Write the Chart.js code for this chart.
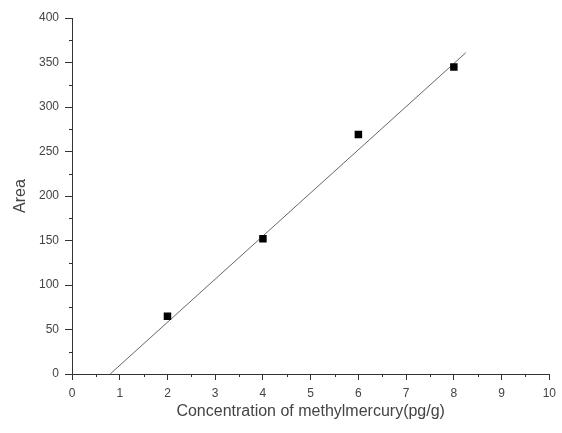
<!DOCTYPE html>
<html>
<head>
<meta charset="utf-8">
<script src="https://cdn.jsdelivr.net/npm/chart.js@4"></script>
<style>
  html, body { margin: 0; padding: 0; background: #fff; }
  #wrap { width: 562px; height: 433px; }
</style>
</head>
<body>
<div id="wrap"><canvas id="calibChart" width="562" height="433"></canvas></div>
<script>
// measured points
const conc = [2, 4, 6, 8];
const area = [65, 152, 269, 345];
// fitted line, ends as drawn
const fit_x = [0.8, 8.25];
const fit_y = [0, 361];

const x_ticks = [0, 1, 2, 3, 4, 5, 6, 7, 8, 9, 10];
const y_ticks = [0, 50, 100, 150, 200, 250, 300, 350, 400];

const points = conc.map(function (c, i) { return { x: c, y: area[i] }; });
const fitLine = fit_x.map(function (c, i) { return { x: c, y: fit_y[i] }; });

// short minor ticks between the labelled ones
const minorTicks = {
  id: "minorTicks",
  afterDraw: function (chart) {
    const ctx = chart.ctx;
    const xs = chart.scales.x, ys = chart.scales.y;
    ctx.save();
    ctx.strokeStyle = "#333";
    ctx.lineWidth = 1;
    ctx.beginPath();
    for (let i = 0; i < x_ticks.length - 1; i++) {
      const px = Math.round(xs.getPixelForValue(x_ticks[i] + 0.5)) + 0.5;
      ctx.moveTo(px, xs.top);
      ctx.lineTo(px, xs.top + 3);
    }
    for (let i = 0; i < y_ticks.length - 1; i++) {
      const py = Math.round(ys.getPixelForValue(y_ticks[i] + 25)) + 0.5;
      ctx.moveTo(ys.right, py);
      ctx.lineTo(ys.right - 3, py);
    }
    ctx.stroke();
    ctx.restore();
  }
};

const calib_chart = new Chart("calibChart", {
  type: "scatter",
  data: {
    datasets: [
      {
        label: "Area",
        data: points,
        pointStyle: "rect",
        pointRadius: 5.3,
        backgroundColor: "#000",
        borderColor: "#000",
        borderWidth: 0,
      },
      {
        label: "Fit",
        data: fitLine,
        showLine: true,
        pointRadius: 0,
        borderColor: "#666",
        borderWidth: 1,
      },
    ],
  },
  options: {
    responsive: false,
    animation: false,
    layout: { padding: { top: 18, right: 4, left: 0, bottom: 0 } },
    plugins: { legend: { display: false }, tooltip: { enabled: false } },
    scales: {
      x: {
        type: "linear",
        min: 0,
        max: 10,
        afterFit: function (scale) { scale.height = 59; },
        afterBuildTicks: function (scale) {
          scale.ticks = x_ticks.map(function (v) { return { value: v }; });
        },
        border: { color: "#333", width: 1 },
        grid: { drawOnChartArea: false, tickLength: 6, color: "#333" },
        ticks: { color: "#444", font: { family: "Liberation Sans", size: 12 }, padding: 6, maxRotation: 0 },
        title: {
          display: true,
          text: "Concentration of methylmercury(pg/g)",
          color: "#444",
          font: { family: "Liberation Sans", size: 16 },
          padding: { top: 0, bottom: 12 },
        },
      },
      y: {
        min: 0,
        max: 400,
        afterFit: function (scale) { scale.width = 72; },
        afterBuildTicks: function (scale) {
          scale.ticks = y_ticks.map(function (v) { return { value: v }; });
        },
        border: { color: "#333", width: 1 },
        grid: { drawOnChartArea: false, tickLength: 7, color: "#333" },
        ticks: { color: "#444", font: { family: "Liberation Sans", size: 12 }, padding: 6 },
        title: {
          display: true,
          text: "Area",
          color: "#444",
          font: { family: "Liberation Sans", size: 16 },
          padding: { top: 11, bottom: 0 },
        },
      },
    },
  },
  plugins: [minorTicks],
});
</script>
</body>
</html>
